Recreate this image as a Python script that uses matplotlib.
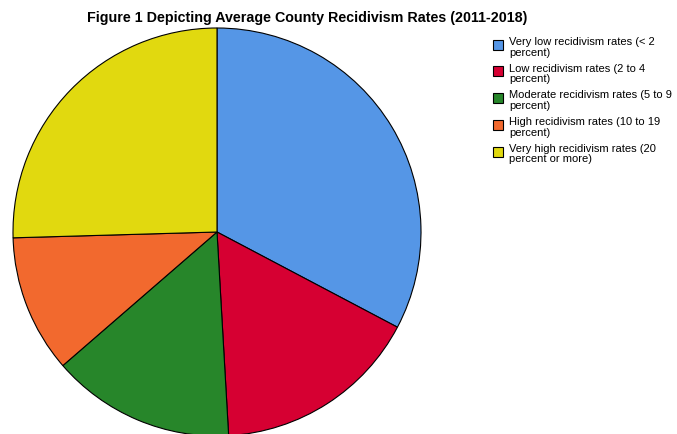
import matplotlib
matplotlib.use('Agg')
import matplotlib.pyplot as plt
from matplotlib.patches import Rectangle

# Number of counties per recidivism category
categories = [
    ("Very low recidivism rates (< 2", "percent)"),
    ("Low recidivism rates (2 to 4", "percent)"),
    ("Moderate recidivism rates (5 to 9", "percent)"),
    ("High recidivism rates (10 to 19", "percent)"),
    ("Very high recidivism rates (20", "percent or more)"),
]
counts = [18, 9, 8, 6, 14]
colors = ['#5596E6', '#D60032', '#27862A', '#F2692E', '#E1D90F']

plt.rcParams['font.family'] = ['Liberation Sans', 'DejaVu Sans']

W, H = 677, 435
fig = plt.figure(figsize=(W / 100, H / 100), dpi=100)
fig.patch.set_facecolor('white')

# pie axes: centre (217, 233) px, radius 204 px
cx, cy, r = 217, 233, 204
ax = fig.add_axes([(cx - r) / W, (H - cy - r) / H, 2 * r / W, 2 * r / H])
ax.pie(counts, colors=colors, startangle=90, counterclock=False,
       radius=1.0, wedgeprops=dict(edgecolor='black', linewidth=0.8))
ax.set_xlim(-1, 1)
ax.set_ylim(-1, 1)
ax.set_aspect('equal')
ax.axis('off')

fig.text(307 / W, 1 - 18 / H,
         "Figure 1 Depicting Average County Recidivism Rates (2011-2018)",
         ha='center', va='center', fontsize=10.3, fontweight='bold')

# hand-placed legend (pixel layout from the reference)
top0, step = 37, 26.75
for i, ((l1, l2), c) in enumerate(zip(categories, colors)):
    top = top0 + i * step
    fig.patches.append(Rectangle((493 / W, 1 - (top + 13.5) / H), 10 / W, 10 / H,
                                 transform=fig.transFigure, facecolor=c,
                                 edgecolor='black', linewidth=0.8))
    fig.text(509 / W, 1 - (top + 8) / H, l1, fontsize=8, va='baseline')
    fig.text(509 / W, 1 - (top + 18.5) / H, l2, fontsize=8, va='baseline')

fig.savefig('out.png', dpi=100, facecolor='white')
